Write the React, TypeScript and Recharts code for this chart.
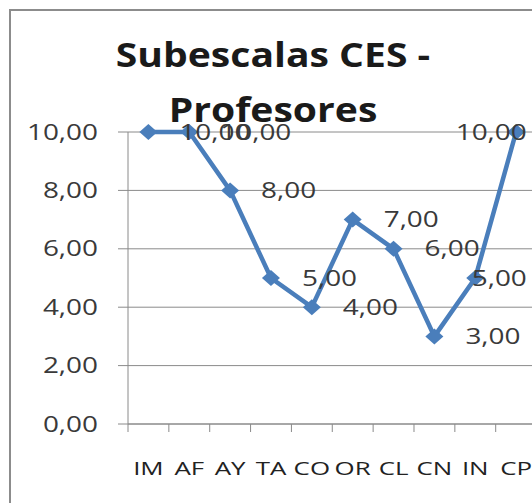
import React from 'react';
import { LineChart, Line, XAxis, YAxis, CartesianGrid, LabelList } from 'recharts';

const categories = ['IM', 'AF', 'AY', 'TA', 'CO', 'OR', 'CL', 'CN', 'IN', 'CP'];
const scores = [10, 10, 8, 5, 4, 7, 6, 3, 5, 10];
const yTicks = [0, 2, 4, 6, 8, 10];
const titleLines = ['Subescalas CES -', 'Profesores'];

const data = categories.map((name, i) => ({ name, value: scores[i] }));

const CHART_W = 560;
const CHART_H = 503;
const BAND = 40.8;
const BLUE = '#4a7ebb';
const GRID = '#8a8a8a';
const TEXT = '#3a3a3a';
const FONT = '"Open Sans", sans-serif';
const LABEL_RIGHT = 527;

const fmt = (v: number) => v.toFixed(2).replace('.', ',');

// rough width of a number label at 21px, stretched 1.33
const labelWidth = (s: string) =>
  s.split('').reduce((w, ch) => w + (ch === ',' ? 7.3 : 16), 0);

const YTick = (props: any) => {
  const { x, y, payload } = props;
  return (
    <text
      transform={`translate(${x},${y + 7.5}) scale(1.33,1)`}
      textAnchor="end"
      fontFamily={FONT}
      fontSize={21}
      fill={TEXT}
    >
      {fmt(payload.value)}
    </text>
  );
};

const XTick = (props: any) => {
  const { x, y, payload, index } = props;
  const last = index === categories.length - 1;
  return (
    <g>
      <line x1={x - BAND / 2} x2={x - BAND / 2} y1={y} y2={y + 8} stroke={GRID} />
      {last && <line x1={x + BAND / 2} x2={x + BAND / 2} y1={y} y2={y + 8} stroke={GRID} />}
      <text
        transform={`translate(${x},${y + 51}) scale(1.4,1)`}
        textAnchor="middle"
        fontFamily={FONT}
        fontSize={18.5}
        fill="#222"
      >
        {payload.value}
      </text>
    </g>
  );
};

const Diamond = (props: any) => {
  const { cx, cy } = props;
  if (cx == null || cy == null) return null;
  return <path d={`M${cx - 9},${cy} L${cx},${cy - 8} L${cx + 9},${cy} L${cx},${cy + 8} Z`} fill={BLUE} />;
};

const ValueLabel = (props: any) => {
  const { x, y, value } = props;
  const s = fmt(Number(value));
  const left = Math.min(x + 31, LABEL_RIGHT - labelWidth(s));
  return (
    <text
      transform={`translate(${left},${y + 7.5}) scale(1.33,1)`}
      textAnchor="start"
      fontFamily={FONT}
      fontSize={21}
      fill={TEXT}
    >
      {s}
    </text>
  );
};

export default function App() {
  return (
    <div style={{ position: 'absolute', left: 0, top: 0, width: 532, height: 503, overflow: 'hidden', background: '#fff' }}>
      <div
        style={{
          position: 'absolute',
          left: 9,
          top: 9,
          width: 600,
          height: 600,
          borderLeft: '2px solid #8c8c8c',
          borderTop: '2px solid #8c8c8c',
        }}
      />
      <div style={{ position: 'absolute', left: 0, top: 0 }}>
        <LineChart width={CHART_W} height={CHART_H} data={data} margin={{ top: 132, right: 23.5, bottom: 0, left: 0 }}>
          <CartesianGrid vertical={false} stroke={GRID} />
          <XAxis
            dataKey="name"
            interval={0}
            height={79}
            padding={{ left: BAND / 2, right: BAND / 2 }}
            axisLine={{ stroke: GRID }}
            tickLine={false}
            tickSize={0}
            tickMargin={0}
            tick={<XTick />}
          />
          <YAxis
            type="number"
            domain={[0, 10]}
            ticks={yTicks}
            interval={0}
            width={128}
            tickSize={10}
            tickMargin={20}
            axisLine={{ stroke: GRID }}
            tickLine={{ stroke: GRID }}
            tick={<YTick />}
          />
          <Line
            type="linear"
            dataKey="value"
            stroke={BLUE}
            strokeWidth={4.5}
            dot={<Diamond />}
            activeDot={false}
            isAnimationActive={false}
          >
            <LabelList dataKey="value" content={<ValueLabel />} />
          </Line>
        </LineChart>
      </div>
      <svg width={532} height={140} style={{ position: 'absolute', left: 0, top: 0 }}>
        {titleLines.map((t, i) => (
          <text
            key={t}
            transform={`translate(273,${67 + i * 55}) scale(1.15,1)`}
            textAnchor="middle"
            fontFamily={FONT}
            fontWeight={700}
            fontSize={34}
            fill="#1a1a1a"
          >
            {t}
          </text>
        ))}
      </svg>
    </div>
  );
}
